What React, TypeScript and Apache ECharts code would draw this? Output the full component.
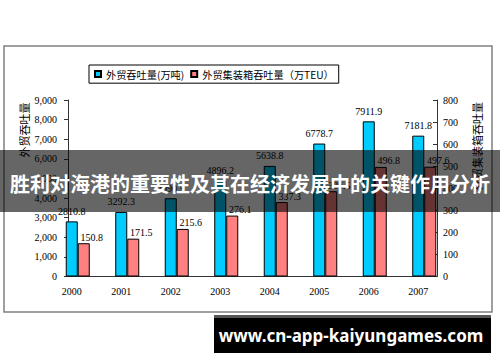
import React, { useEffect, useRef } from 'react';
import * as echarts from 'echarts';

const years = ['2000', '2001', '2002', '2003', '2004', '2005', '2006', '2007'];
const throughput = [2810.8, 3292.3, 3990.5, 4896.2, 5638.8, 6778.7, 7911.9, 7181.8];
const teu = [150.8, 171.5, 215.6, 276.1, 337.3, 386.5, 496.8, 497.6];
const seriesNames = ['外贸吞吐量(万吨)', '外贸集装箱吞吐量（万TEU）'];
const leftAxisName = '外贸吞吐量';
const rightAxisName = '外贸集装箱吞吐量';
const leftAxisMax = 9000;
const leftAxisStep = 1000;
const rightAxisMax = 800;
const rightAxisStep = 100;
const title = '胜利对海港的重要性及其在经济发展中的关键作用分析';
const watermark = 'www.cn-app-kaiyungames.com';

export default function App() {
  const ref = useRef<HTMLDivElement>(null);
  useEffect(() => {
    const chart = echarts.init(ref.current!, null, { renderer: 'svg' });
    const serif = '"Liberation Serif", "DejaVu Serif", serif';
    const cjk = '"Noto Sans CJK SC", sans-serif';
    const axisColor = '#333';
    const fmt = (p: any) => Number(p.value).toFixed(1);
    chart.setOption({
      animation: false,
      backgroundColor: '#fff',
      grid: [
        { left: 53, right: 51, top: 100, bottom: 85.5 },
        { left: 68, right: 63, top: 100, bottom: 85.5 },
      ],
      xAxis: [
        {
          type: 'category', gridIndex: 0, data: years,
          axisLine: { show: false }, axisTick: { show: false },
          axisLabel: { margin: 10, padding: [0, 12, 0, 0], fontFamily: serif, fontSize: 10, color: '#000' },
        },
        {
          type: 'category', gridIndex: 1, data: years,
          axisLine: { show: true, lineStyle: { color: axisColor } },
          axisTick: { show: false }, axisLabel: { show: false },
        },
      ],
      yAxis: [
        { type: 'value', gridIndex: 0, min: 0, max: leftAxisMax, interval: leftAxisStep, show: false },
        { type: 'value', gridIndex: 0, min: 0, max: rightAxisMax, interval: rightAxisStep, show: false, position: 'right' },
        {
          type: 'value', gridIndex: 1, min: 0, max: leftAxisMax, interval: leftAxisStep, position: 'left',
          axisLine: { show: true, lineStyle: { color: axisColor } },
          axisTick: { show: true, length: 4, lineStyle: { color: axisColor } },
          axisLabel: { margin: 11, fontFamily: serif, fontSize: 10, color: '#000' },
          splitLine: { show: false },
        },
        {
          type: 'value', gridIndex: 1, min: 0, max: rightAxisMax, interval: rightAxisStep, position: 'right',
          axisLine: { show: true, lineStyle: { color: axisColor } },
          axisTick: { show: true, inside: true, length: 4, lineStyle: { color: axisColor } },
          axisLabel: { margin: 6, fontFamily: serif, fontSize: 10, color: '#000' },
          splitLine: { show: false },
        },
      ],
      legend: {
        data: seriesNames, left: 89, top: 65,
        borderColor: '#000', borderWidth: 1, padding: [4, 5, 4, 5],
        itemWidth: 6, itemHeight: 6, itemGap: 6, icon: 'rect',
        textStyle: { fontFamily: cjk, fontSize: 10.2, color: '#000' },
      },
      series: [
        {
          type: 'bar', name: seriesNames[0], xAxisIndex: 0, yAxisIndex: 0, data: throughput,
          barWidth: 12, barGap: '0%',
          itemStyle: { color: '#00CCFF', borderColor: '#000', borderWidth: 1 },
          label: { show: true, position: 'top', distance: 5, formatter: fmt, fontFamily: serif, fontSize: 10, color: '#000' },
        },
        {
          type: 'bar', name: seriesNames[1], xAxisIndex: 0, yAxisIndex: 1, data: teu,
          barWidth: 12, barGap: '0%',
          itemStyle: { color: '#FF8080', borderColor: '#000', borderWidth: 1 },
          label: { show: true, position: 'top', distance: 5, offset: [8, 4], formatter: fmt, fontFamily: serif, fontSize: 10, color: '#000' },
        },
      ],
      graphic: [
        { type: 'rect', z: 0, shape: { x: 4, y: 46, width: 488, height: 266 }, style: { fill: 'none', stroke: '#808080', lineWidth: 1.5 } },
        { type: 'text', z: 5, x: 23.5, y: 130, rotation: Math.PI / 2, style: { text: leftAxisName, fontSize: 11, fontFamily: cjk, fill: '#000', align: 'center', verticalAlign: 'middle' } },
        { type: 'text', z: 5, x: 476.5, y: 146, rotation: Math.PI / 2, style: { text: rightAxisName, fontSize: 11, fontFamily: cjk, fill: '#000', align: 'center', verticalAlign: 'middle' } },
        { type: 'rect', z: 100, shape: { x: 0, y: 150, width: 500, height: 62 }, style: { fill: 'rgba(0,0,0,0.6)' } },
        { type: 'text', z: 101, x: 250, y: 183, style: { text: title, fontSize: 20, fontWeight: 'bold', fontFamily: cjk, fill: '#fff', align: 'center', verticalAlign: 'middle' } },
        { type: 'rect', z: 100, shape: { x: 214, y: 315, width: 277, height: 38 }, style: { fill: '#000' } },
        { type: 'rect', z: 100, shape: { x: 214, y: 315, width: 277, height: 3 }, style: { fill: '#555' } },
        { type: 'text', z: 101, x: 351, y: 335, style: { text: watermark, fontSize: 17, fontWeight: 'bold', fontFamily: '"Noto Sans", "Open Sans", sans-serif', fill: '#fff', align: 'center', verticalAlign: 'middle' } },
      ],
    });
    return () => chart.dispose();
  }, []);
  return <div ref={ref} style={{ position: 'fixed', left: 0, top: 0, width: 500, height: 362 }} />;
}
